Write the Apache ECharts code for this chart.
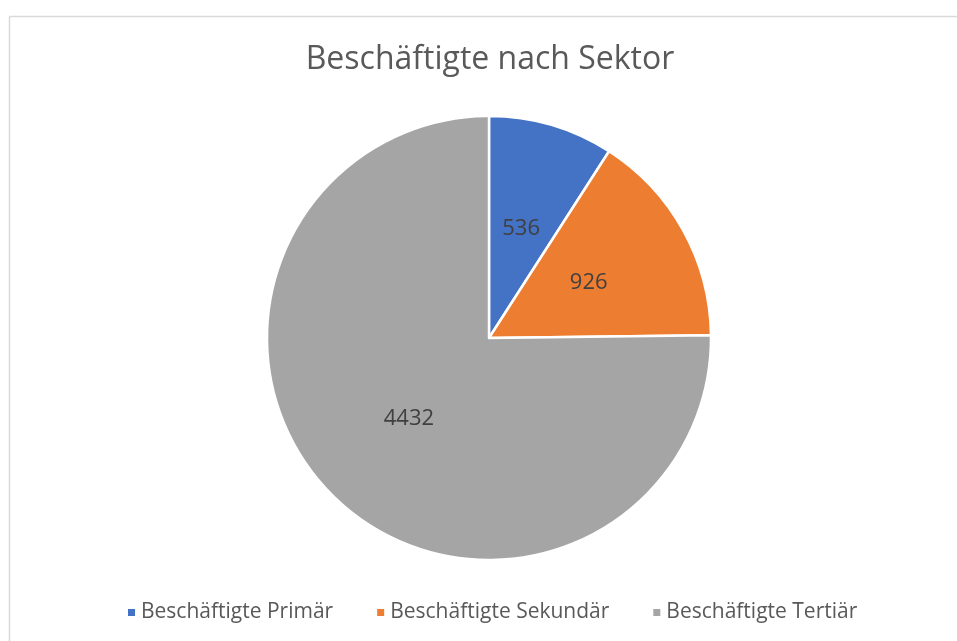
<!DOCTYPE html>
<html>
<head>
<meta charset="utf-8">
<script src="https://cdn.jsdelivr.net/npm/echarts@6/dist/echarts.min.js"></script>
<style>html,body{margin:0;padding:0;background:#fff;overflow:hidden}#c{width:957px;height:641px}</style>
</head>
<body>
<div id="c"></div>
<script>
const categories = ["Beschäftigte Primär", "Beschäftigte Sekundär", "Beschäftigte Tertiär"];
const values = [536, 926, 4432];
const colors = ["#4472C4", "#ED7D31", "#A5A5A5"];
const titleText = "Beschäftigte nach Sektor";

const chart = echarts.init(document.getElementById('c'), null, {renderer: 'canvas'});
chart.setOption({
  animation: false,
  backgroundColor: '#fff',
  graphic: [
    {type: 'line', shape: {x1: 9.5, y1: 16.5, x2: 957, y2: 16.5}, style: {stroke: '#d9d9d9', lineWidth: 1.5}, silent: true},
    {type: 'line', shape: {x1: 9.5, y1: 16.5, x2: 9.5, y2: 641}, style: {stroke: '#d9d9d9', lineWidth: 1.5}, silent: true}
  ],
  title: {
    text: titleText, left: 485, textAlign: 'center', top: 39,
    textStyle: {fontFamily: 'Open Sans', fontSize: 32, fontWeight: 'normal', color: '#595959'}
  },
  legend: {
    bottom: 13, left: 121, itemWidth: 9, itemHeight: 9, itemGap: 42, icon: 'rect',
    textStyle: {fontFamily: 'Open Sans', fontSize: 21, color: '#595959'},
    data: categories
  },
  series: [{
    type: 'pie', center: [489, 338], radius: [0, 222], startAngle: 90, clockwise: true,
    itemStyle: {borderColor: '#fff', borderWidth: 2.5},
    label: {position: 'inside', show: true, formatter: '{c}', fontFamily: 'Open Sans', fontSize: 22, color: '#404040'},
    labelLine: {show: false},
    data: categories.map((n, i) => ({name: n, value: values[i], itemStyle: {color: colors[i]}}))
  }]
});
</script>
</body>
</html>
